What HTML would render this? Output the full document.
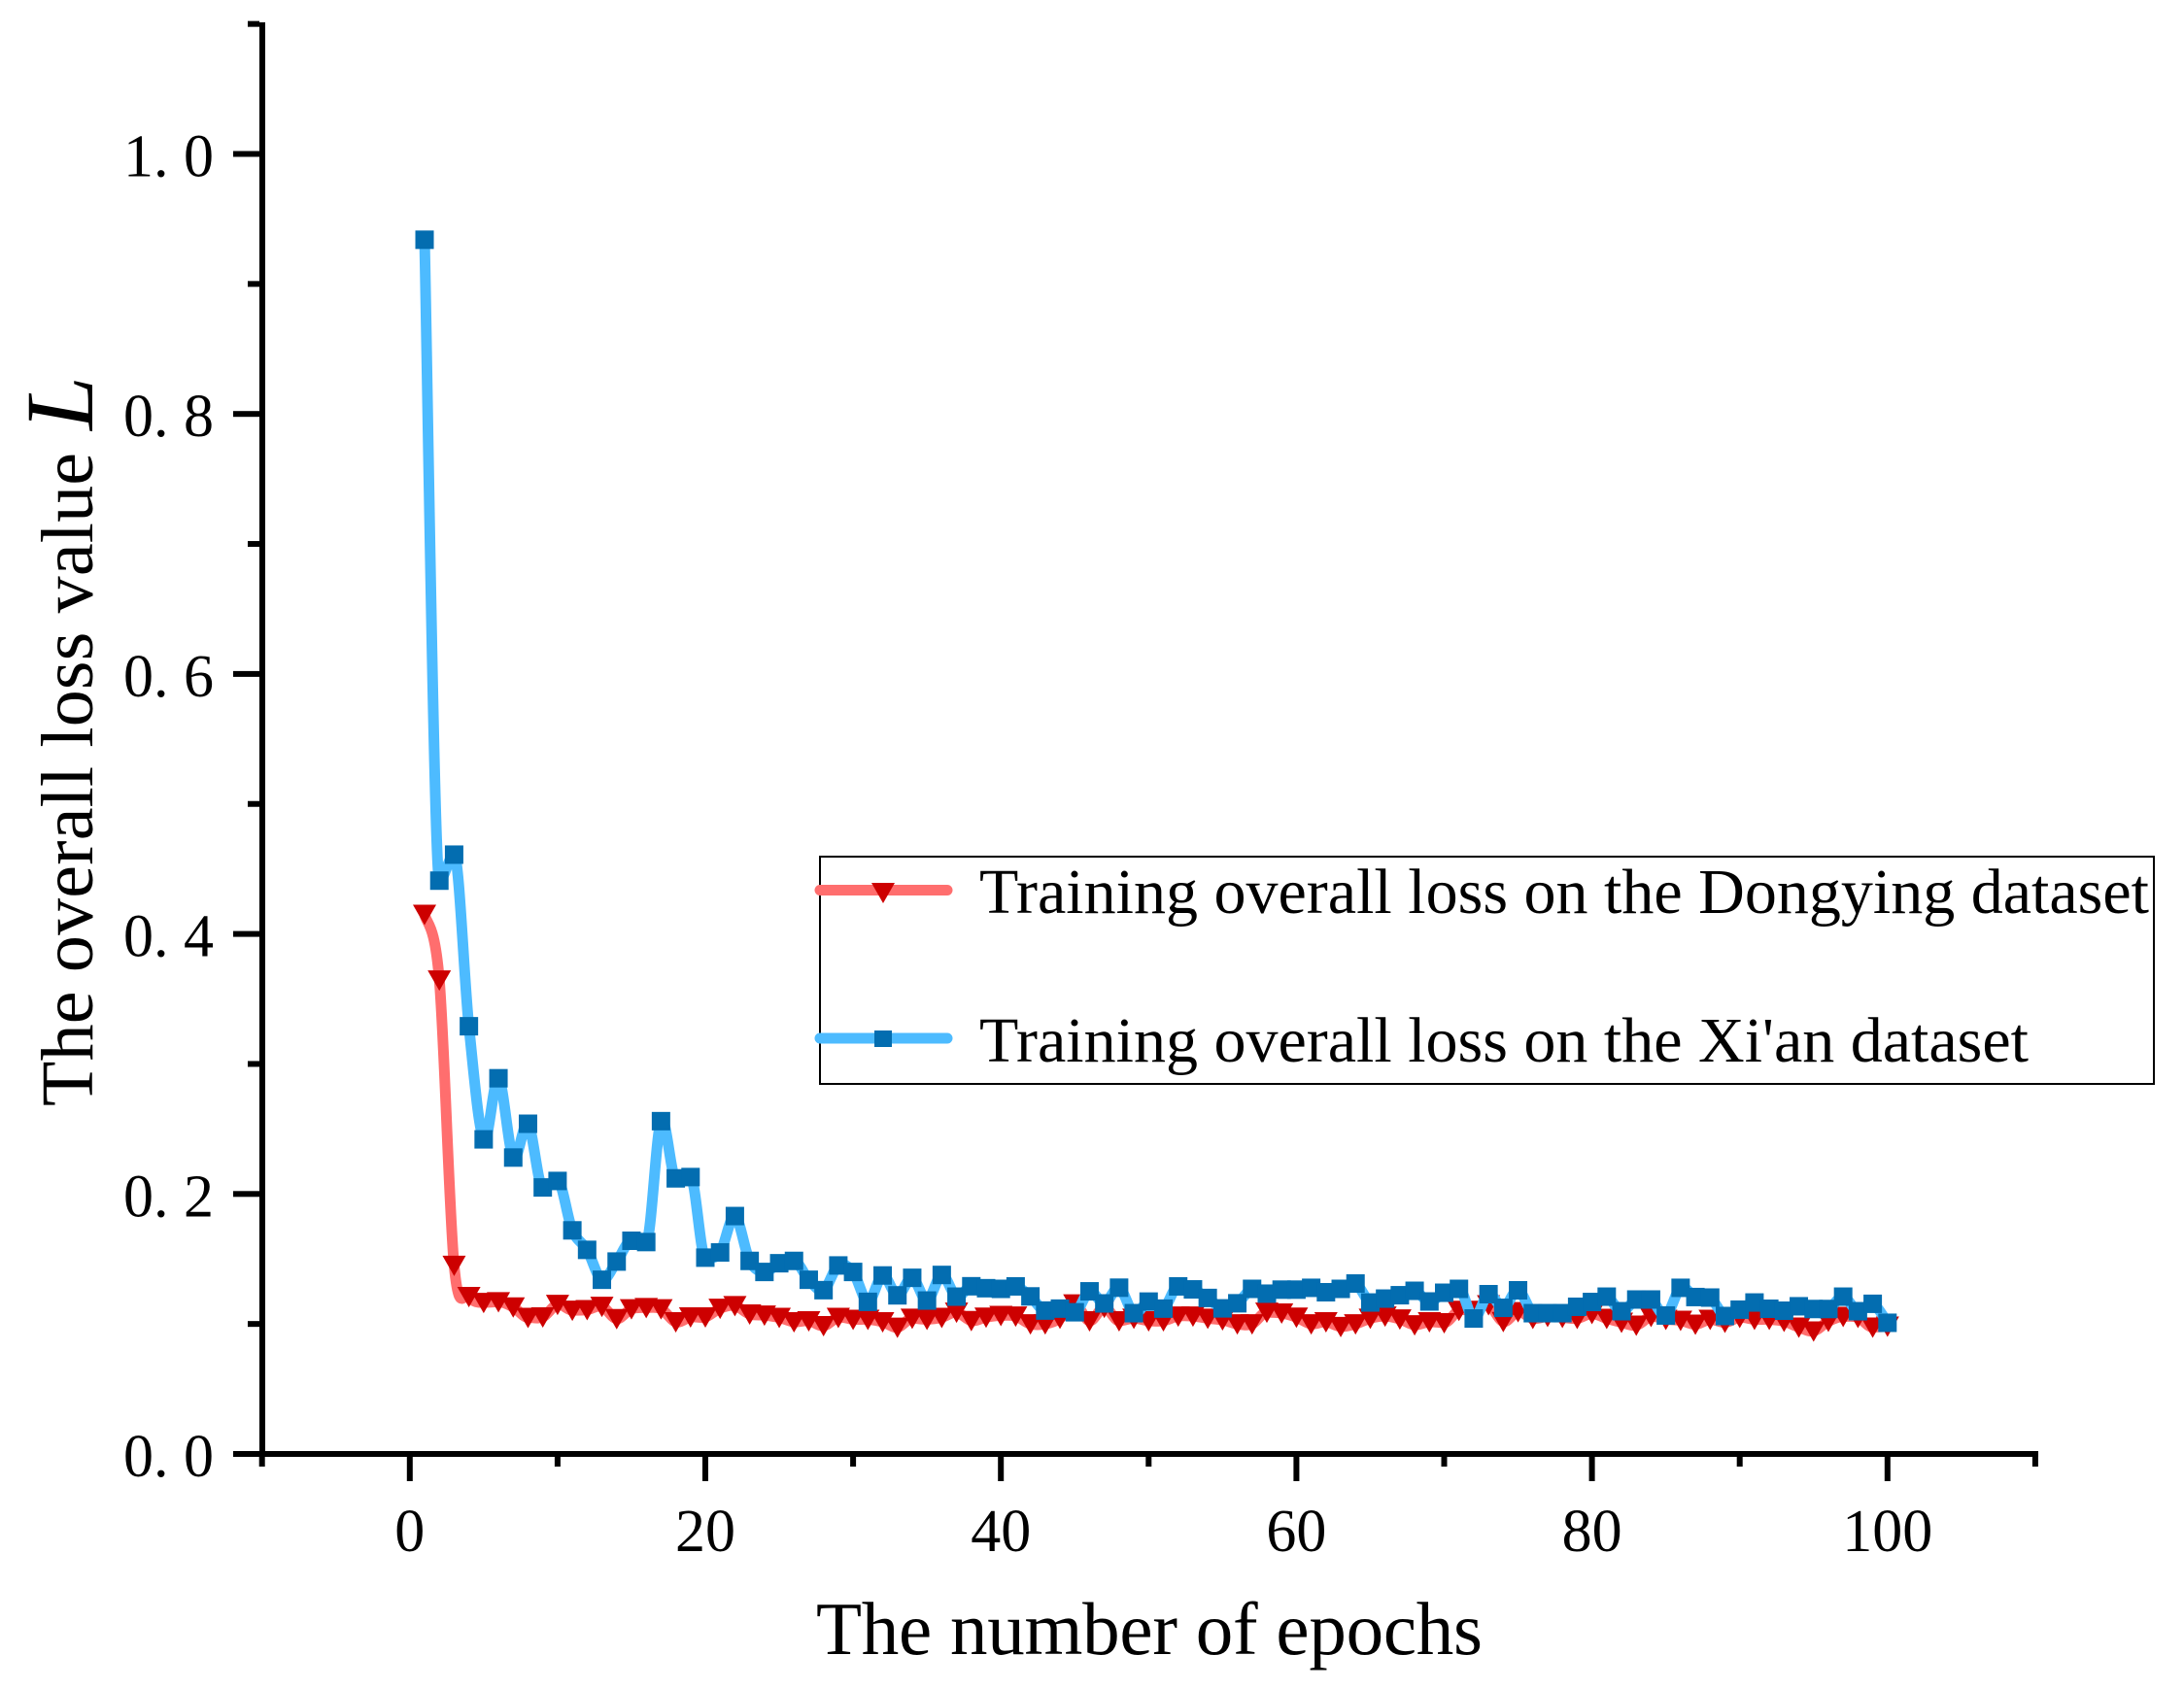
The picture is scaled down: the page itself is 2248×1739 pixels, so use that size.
<!DOCTYPE html>
<html lang="en">
<head>
<meta charset="utf-8">
<title>Training overall loss chart</title>
<style>
html,body{margin:0;padding:0;background:#fff;}
svg{display:block;}
text{font-family:"Liberation Serif",serif;fill:#000;white-space:pre;}
</style>
</head>
<body>
<svg id="chart" xmlns="http://www.w3.org/2000/svg" width="2248" height="1739" viewBox="0 0 2248 1739">
  <rect x="0" y="0" width="2248" height="1739" fill="#fff"/>
  <g id="series"></g>
  <g id="axes">
    <rect x="267" y="23" width="6" height="1477" fill="#000"/>
    <rect x="267" y="1494" width="1831" height="6" fill="#000"/>
  </g>
  <text x="840" y="1703" font-size="77" textLength="686">The number of epochs</text>
  <g transform="translate(95,1139) rotate(-90)">
    <text x="0" y="0" font-size="76" textLength="673">The overall loss value</text>
    <text x="696" y="0" font-size="100" font-style="italic">L</text>
  </g>
  <g>
    <rect x="844" y="882" width="1373" height="234" fill="none" stroke="#000" stroke-width="2"/>
    <g>
      <line x1="844" y1="916.5" x2="975" y2="916.5" stroke="#ff6e6e" stroke-width="11" stroke-linecap="round"/>
      <polygon points="897,909 921,909 909,930" fill="#cd0000"/>
      <text x="1008" y="940" font-size="66" textLength="1204">Training overall loss on the Dongying dataset</text>
    </g>
    <g>
      <line x1="844" y1="1069" x2="975" y2="1069" stroke="#4dbbff" stroke-width="11" stroke-linecap="round"/>
      <rect x="900" y="1061" width="18" height="17" fill="#036db0"/>
      <text x="1008" y="1093" font-size="66" textLength="1080">Training overall loss on the Xi'an dataset</text>
    </g>
  </g>
</svg>
<script>
const epochs = Array.from({length: 100}, (_, i) => i + 1);
const dongyingLoss = [
  .415,.3645,.145,.121,.1165,.117,.113,.105,.1053,.115,
  .1105,.1109,.1135,.104,.1116,.1125,.1116,.1016,.1053,.1053,
  .112,.114,.1076,.1067,.105,.1016,.1024,.0986,.105,.1035,
  .1035,.1016,.0974,.1043,.1035,.105,.109,.1025,.1052,.1065,
  .106,.100,.100,.1043,.1153,.1024,.1127,.1024,.1043,.1024,
  .1024,.106,.106,.1043,.1031,.100,.100,.109,.1083,.1052,
  .100,.1016,.098,.100,.1043,.106,.1038,.0993,.1016,.1009,
  .1104,.1104,.1147,.1018,.1094,.1042,.1057,.105,.1042,.108,
  .1042,.1012,.099,.1057,.1035,.1027,.0997,.1035,.1012,.105,
  .1035,.1035,.102,.0975,.0945,.102,.1057,.105,.0975,.0982
];
const xianLoss = [
  .934,.441,.461,.329,.242,.289,.228,.254,.205,.210,
  .172,.157,.134,.148,.164,.163,.256,.212,.213,.151,
  .155,.183,.1485,.140,.1467,.1485,.134,.126,.145,.140,
  .117,.1373,.122,.1355,.118,.1377,.121,.129,.1275,.127,
  .1289,.1212,.1103,.1118,.109,.1251,.1158,.1279,.1083,.1172,
  .1118,.1289,.1266,.120,.112,.1159,.127,.1233,.1264,.1264,
  .1278,.1244,.127,.1311,.1165,.1195,.1221,.1255,.1173,.124,
  .127,.1042,.1229,.1124,.1259,.1083,.1083,.1083,.1132,.1169,
  .121,.1098,.1188,.1188,.1065,.1278,.1207,.1203,.1061,.111,
  .1165,.1117,.1102,.1136,.1115,.1115,.121,.1098,.1155,.1009
];
const xTickValues = [-10,0,10,20,30,40,50,60,70,80,90,100,110];
const xTickLabels = ["","0","","20","","40","","60","","80","","100",""];
const yTickValues = [0,.1,.2,.3,.4,.5,.6,.7,.8,.9,1.0,1.1];
const yTickLabels = ["0. 0","","0. 2","","0. 4","","0. 6","","0. 8","","1. 0",""];

const SVG_NS = "http://www.w3.org/2000/svg";
function xScale(v){ return 421.8 + 15.21 * v; }
function yScale(v){ return 1497 - 1338.5 * v; }

function splinePath(xs, ys){
  const pts = xs.map((x, i) => [xScale(x), yScale(ys[i])]);
  const n = pts.length;
  const tangents = pts.map((p, i) => {
    const prev = pts[Math.max(i - 1, 0)], next = pts[Math.min(i + 1, n - 1)];
    const dA = i > 0 ? p[1] - prev[1] : 0;
    const dB = i < n - 1 ? next[1] - p[1] : 0;
    const spread = (next[0] - prev[0]) / 2;
    const reversal = dA * dB < 0;
    const lopsided = Math.max(Math.abs(dA), Math.abs(dB)) > 5 * Math.min(Math.abs(dA), Math.abs(dB));
    const dy = (reversal && lopsided) ? 0 : (next[1] - prev[1]) / 2;
    return [spread, dy];
  });
  let d = "M" + pts[0][0].toFixed(2) + " " + pts[0][1].toFixed(2);
  for (let i = 0; i < n - 1; i++){
    const p1 = pts[i], p2 = pts[i + 1], t1 = tangents[i], t2 = tangents[i + 1];
    const c1x = p1[0] + t1[0] / 3, c1y = p1[1] + t1[1] / 3;
    const c2x = p2[0] - t2[0] / 3, c2y = p2[1] - t2[1] / 3;
    d += "C" + c1x.toFixed(2) + " " + c1y.toFixed(2) + " " + c2x.toFixed(2) + " " + c2y.toFixed(2) + " " + p2[0].toFixed(2) + " " + p2[1].toFixed(2);
  }
  return d;
}

const seriesGroup = document.getElementById("series");
const axesGroup = document.getElementById("axes");

// Dongying line
const redLine = document.createElementNS(SVG_NS, "path");


redLine.setAttribute("d", splinePath(epochs, dongyingLoss));
redLine.setAttribute("fill", "none");
redLine.setAttribute("stroke", "#ff6e6e");
redLine.setAttribute("stroke-width", "11");
redLine.setAttribute("stroke-linejoin", "round");
seriesGroup.appendChild(redLine);

// Dongying markers
epochs.forEach((e, i) => {
  const cx = xScale(e), cy = yScale(dongyingLoss[i]);
  const tri = document.createElementNS(SVG_NS, "polygon");
  
  
  tri.setAttribute("points", (cx - 12) + "," + (cy - 10) + " " + (cx + 12) + "," + (cy - 10) + " " + cx + "," + (cy + 11));
  tri.setAttribute("fill", "#cd0000");
  seriesGroup.appendChild(tri);
});

// Xi'an line
const blueLine = document.createElementNS(SVG_NS, "path");


blueLine.setAttribute("d", splinePath(epochs, xianLoss));
blueLine.setAttribute("fill", "none");
blueLine.setAttribute("stroke", "#4dbbff");
blueLine.setAttribute("stroke-width", "11");
blueLine.setAttribute("stroke-linejoin", "round");
seriesGroup.appendChild(blueLine);

// Xi'an markers
epochs.forEach((e, i) => {
  const cx = xScale(e), cy = yScale(xianLoss[i]);
  const sq = document.createElementNS(SVG_NS, "rect");
  
  
  sq.setAttribute("x", cx - 9.5);
  sq.setAttribute("y", cy - 9.5);
  sq.setAttribute("width", 19);
  sq.setAttribute("height", 19);
  sq.setAttribute("fill", "#036db0");
  seriesGroup.appendChild(sq);
});

// X ticks
xTickValues.forEach((v, i) => {
  const major = xTickLabels[i] !== "";
  const tick = document.createElementNS(SVG_NS, "rect");
  
  
  tick.setAttribute("x", xScale(v) - 3);
  tick.setAttribute("y", 1500);
  tick.setAttribute("width", 6);
  tick.setAttribute("height", major ? 25 : 10);
  tick.setAttribute("fill", "#000");
  axesGroup.appendChild(tick);
  if (major){
    const label = document.createElementNS(SVG_NS, "text");
    
    
    label.setAttribute("x", xScale(v));
    label.setAttribute("y", 1597);
    label.setAttribute("font-size", "62");
    label.setAttribute("text-anchor", "middle");
    label.textContent = xTickLabels[i];
    axesGroup.appendChild(label);
  }
});

// Y ticks
yTickValues.forEach((v, i) => {
  const major = yTickLabels[i] !== "";
  const tick = document.createElementNS(SVG_NS, "rect");
  
  
  tick.setAttribute("x", major ? 240 : 255);
  tick.setAttribute("y", yScale(v) - 3);
  tick.setAttribute("width", major ? 27 : 12);
  tick.setAttribute("height", 6);
  tick.setAttribute("fill", "#000");
  axesGroup.appendChild(tick);
  if (major){
    const label = document.createElementNS(SVG_NS, "text");
    
    
    label.setAttribute("x", 220);
    label.setAttribute("y", yScale(v) + 23);
    label.setAttribute("font-size", "62");
    label.setAttribute("text-anchor", "end");
    label.textContent = yTickLabels[i];
    axesGroup.appendChild(label);
  }
});
</script>
</body>
</html>
